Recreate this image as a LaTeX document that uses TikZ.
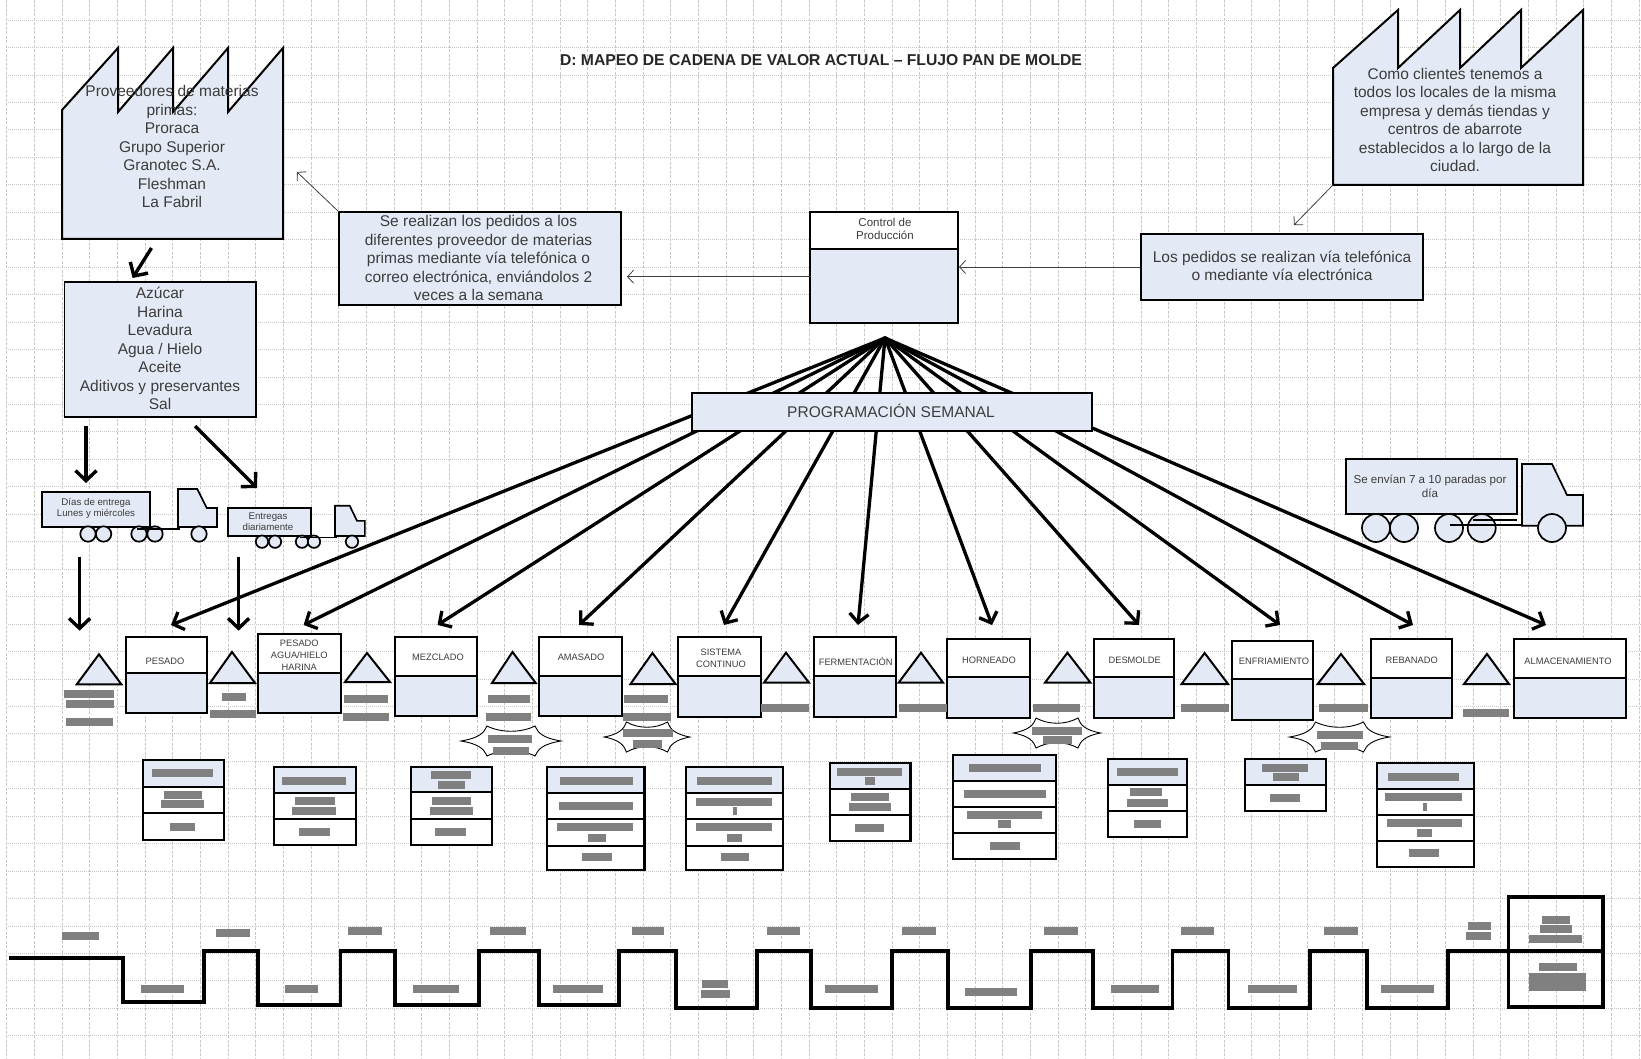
\documentclass[tikz,border=0pt]{standalone}
\usepackage{fontspec}
\setmainfont{Liberation Sans}
\usetikzlibrary{arrows.meta,fit}
\definecolor{boxblue}{HTML}{E4EAF5}
\definecolor{gridgray}{HTML}{C9C9C9}
\definecolor{inkgray}{HTML}{3C3C3C}
\definecolor{maskgray}{HTML}{808080}

\begin{document}
\begin{tikzpicture}[x=1pt,y=-1pt,line join=miter,
		flow box/.style={draw=black,fill=boxblue,line width=1.7pt,inner sep=0pt},
		big text/.style={text=inkgray,align=center,font=\fontsize{15.5}{18.5}\selectfont},
		small text/.style={text=inkgray,align=center,font=\fontsize{9.3}{12}\selectfont},
		proc top/.style={draw=black,fill=white,line width=2pt,inner sep=0pt},
		proc bot/.style={draw=black,fill=boxblue,line width=2pt,inner sep=0pt},
		stock/.style={draw=black,fill=boxblue,line width=2pt},
		cell/.style={draw=black,line width=2.2pt},
		wheel/.style={draw=black,fill=boxblue,line width=1.7pt},
		thin arrow/.style={->,>={Straight Barb[length=6pt,width=13pt]},draw=black!75,line width=.8pt},
		bold arrow/.style={->,>={Straight Barb[length=10pt,width=21pt]},line width=3.4pt},
		fan arrow/.style={->,>={Straight Barb[length=9pt,width=19pt]},line width=3.3pt,line cap=round},
		time line/.style={line width=3.8pt,line join=miter},
		mask/.style={fill=maskgray},
		tractor/.pic={
			\draw[flow box] (0,0) -- (30,0) -- (45,31) -- (61,31) -- (61,61.7) -- (0,61.7) -- cycle;
		},
		burst/.pic={
			\draw[fill=white,line width=.9pt] (-50,0) .. controls (-32,-3) and (-27,-8) .. (-24,-15)
				.. controls (-10,-8) and (10,-8) .. (24,-15) .. controls (27,-8) and (32,-3) .. (50,0)
				.. controls (32,3) and (27,8) .. (24,15) .. controls (10,8) and (-10,8) .. (-24,15)
				.. controls (-27,8) and (-32,3) .. (-50,0) -- cycle;
		}]
	\useasboundingbox (0,0) rectangle (1641,1059);

	% grid
	\foreach \k in {0,...,59}
		\draw[gridgray,line width=.5pt,dashed,dash pattern=on 3pt off 1.5pt] ({6.5+27.67*\k},0) -- ({6.5+27.67*\k},1059);
	\foreach \k in {0,...,38}
		\draw[gridgray,line width=.6pt,dash pattern=on 1pt off 1pt] (8,{20+27.45*\k}) -- (1641,{20+27.45*\k});

	\node[font=\bfseries\fontsize{15.7}{18}\selectfont,text=black!85] (title) at (821,60) {D: MAPEO DE CADENA DE VALOR ACTUAL – FLUJO PAN DE MOLDE};

	% factories
	\draw[flow box,line width=2pt] (62,239) -- (62,110) -- (118,48) -- (118,112) -- (173,48) -- (173,112) -- (228,48) -- (228,112) -- (283,48) -- (283,239) -- cycle;
	\node[big text] (suppliers) at (172,146.5) {Proveedores de materias\\primas:\\Proraca\\Grupo Superior\\Granotec S.A.\\Fleshman\\La Fabril};
	\coordinate (supplierin) at (297,172);
	\draw[flow box,line width=2pt] (1333,68) -- (1398,10) -- (1398,68) -- (1460,10) -- (1460,68) -- (1521,10) -- (1521,68) -- (1583,10) -- (1583,185) -- (1333,185) -- cycle;
	\node[big text] (clients) at (1455,120) {Como clientes tenemos a\\todos los locales de la misma\\empresa y demás tiendas y\\centros de abarrote\\establecidos a lo largo de la\\ciudad.};
	\coordinate (clientfoot) at (1333,185);
	\coordinate (clientout) at (1294,225);

	% information boxes
	\node[flow box,fit={(64.4,282) (256,417)}] (materials) {};
	\node[big text] (materialstext) at (160,348.5) {Azúcar\\Harina\\Levadura\\Agua / Hielo\\Aceite\\Aditivos y preservantes\\Sal};
	\node[flow box,fit={(339,212) (621,305)}] (orders) {};
	\node[big text] (orderstext) at (478.5,258) {Se realizan los pedidos a los\\diferentes proveedor de materias\\primas mediante vía telefónica o\\correo electrónica, enviándolos 2\\veces a la semana};
	\node[flow box,fit={(1141,234) (1423,300)}] (phone) {};
	\node[big text] (phonetext) at (1282,266) {Los pedidos se realizan vía telefónica\\o mediante vía electrónica};
	\node[proc top,fit={(810,212) (958,249)}] (controltop) {};
	\node[proc bot,fit={(810,249) (958,323)}] (control) {};
	\node[small text,font=\fontsize{11.5}{13.5}\selectfont] (controltext) at (885,229) {Control de\\Producción};

	\coordinate (ordercorner) at (339,212);
	\coordinate (controlout) at (810,276.7);
	\coordinate (ordersin) at (627,276.7);
	\draw[thin arrow] (ordercorner) -- (supplierin);
	\draw[thin arrow] (controlout) -- (ordersin);
	\draw[thin arrow] (phone.west) -- (control.east |- phone.west);
	\draw[thin arrow] (clientfoot) -- (clientout);

	% process boxes, fan of arrows behind the weekly box
	\coordinate (apex) at (885,338);
	\foreach \n/\xa/\xb/\ya/\yb/\yc/\tx/\ty/\fx/\txt in {
		a/126/207/637.3/672.7/713.3/165/661.7/171/{PESADO},
		b/258/341/634/673/713/299.3/655/303.6/{PESADO\\AGUA/HIELO\\HARINA},
		c/394.6/476.8/637/675.7/716/438/657.7/437.5/{MEZCLADO},
		d/539/622/637/675.7/716/581/657.7/579/{AMASADO},
		e/678/761/637/675.7/716.7/721/657.9/724/{SISTEMA\\CONTINUO},
		f/814.4/895.6/637/675.7/716.7/855.7/661.7/858/{FERMENTACIÓN},
		g/947/1029.5/639/677.3/718.3/989/660/992/{HORNEADO},
		h/1094.3/1174/639/677.3/718.3/1134.7/660/1139/{DESMOLDE},
		i/1231.7/1313.3/641/679.3/720/1274/661.7/1280/{ENFRIAMIENTO},
		j/1370.7/1451.7/639.3/677.7/718.3/1411.7/660/1413/{REBANADO},
		k/1514/1625.7/639.3/677.7/718.3/1568/661.7/1546/{ALMACENAMIENTO}}{
		\node[proc top,fit={(\xa,\ya) (\xb,\yb)}] (top\n) {};
		\node[proc bot,fit={(\xa,\yb) (\xb,\yc)}] (bot\n) {};
		\node[small text] (label\n) at (\tx,\ty) {\txt};
		\coordinate (in\n) at (\fx,625);
		\draw[fan arrow] (apex) -- (in\n);
	}
	\node[flow box,fit={(692,393) (1092,431)}] (weekly) {};
	\node[text=inkgray,font=\fontsize{15.5}{18}\selectfont] (weeklytext) at (891,411) {PROGRAMACIÓN SEMANAL};

	% trucks
	\node[flow box,fit={(42,492) (150,527)}] (trailerone) {};
	\pic[xscale=.64,yscale=.616] at (178,489) {tractor};
	\foreach \wx in {88,103.6,139,155,199}
		\draw[wheel] (\wx,534) circle [radius=7.7];
	\draw[line width=1.7pt] (137,529) -- (180,529);
	\node[flow box,fit={(228,508) (311,536)}] (trailertwo) {};
	\pic[xscale=.49,yscale=.49] at (335,505.7) {tractor};
	\foreach \wx in {262,275,302,314,352}
		\draw[wheel] (\wx,541.7) circle [radius=6.2];
	\draw[line width=1.5pt] (300,537.7) -- (336.8,537.7);
	\node[flow box,fit={(1345.7,459) (1516.7,514)}] (trailerthree) {};
	\pic at (1522,464) {tractor};
	\foreach \wx in {1376,1404,1449,1481.7,1552}
		\draw[wheel] (\wx,528) circle [radius=14];
	\draw[line width=1.5pt] (1450,525) -- (1522,525) (1473,520) -- (1517,520);
	\node[small text,font=\fontsize{9.7}{11.5}\selectfont] (truckone) at (96,508.5) {Días de entrega\\Lunes y miércoles};
	\node[small text,font=\fontsize{9.7}{11.5}\selectfont] (trucktwo) at (268,521.5) {Entregas\\diariamente};
	\node[small text,font=\fontsize{11.6}{14}\selectfont] (truckthree) at (1430,486) {Se envían 7 a 10 paradas por\\día};

	\coordinate (supplierout) at (151.5,248);
	\coordinate (materialsin) at (132.6,278);
	\coordinate (outa) at (86,426);
	\coordinate (truckain) at (86,483);
	\coordinate (outb) at (195,426);
	\coordinate (truckbin) at (257,488);
	\coordinate (truckaout) at (79.6,556.7);
	\coordinate (stocka) at (79.6,630.7);
	\coordinate (truckbout) at (238.6,556.7);
	\coordinate (stockb) at (238.6,630.7);
	\draw[bold arrow] (supplierout) -- (materialsin);
	\draw[bold arrow] (outa) -- (truckain);
	\draw[bold arrow] (outb) -- (truckbin);
	\draw[bold arrow] (truckaout) -- (stocka);
	\draw[bold arrow] (truckbout) -- (stockb);

	% stock triangles
	\foreach \xa/\xm/\xb/\ya/\yb in {76.8/99/121.4/654.3/684.3,210/232/255/652/683,345/367/390/653/682,
		492/512.5/535.7/652/683,630.5/652.4/675.5/653/684,764/786/809/652.7/682.7,898.6/921/943/652.7/682.7,
		1045/1067.4/1090.5/652.7/682.7,1181.6/1204.6/1228/653/684,1317.7/1341/1364/654/684,1464/1487/1509/654/684}
		\draw[stock] (\xm,\ya) -- (\xb,\yb) -- (\xa,\yb) -- cycle;

	% kaizen bursts
	\pic at (511,741) {burst};
	\pic[xscale=.855] at (647,737) {burst};
	\pic[xscale=.87] at (1057,733) {burst};
	\pic at (1339.5,737) {burst};

	% data boxes
	\foreach \xa/\xb/\ya/\yb/\yc/\rows in {
		143/224/760/786.7/840/{786.7,812.7},
		274/356/767.3/792.7/845/{792.7,819},
		410.7/492/767/791.7/845/{791.7,819},
		547/644.4/767.3/792.7/870/{792.7,819,845.7},
		685.6/783.3/767.3/792.7/870/{792.7,819,845.7},
		830/910.4/763.3/788.7/841/{788.7,815},
		953/1056/755/781.3/859/{781.3,807.3,832.7},
		1108/1187.3/759.3/785/836.7/{785,811},
		1245/1326/759.3/785/811/{785},
		1376.7/1474/762.7/789/866.7/{789,814.7,841}}{
		\fill[white] (\xa,\ya) rectangle (\xb,\yc);
		\fill[boxblue] (\xa,\ya) rectangle (\xb,\yb);
		\draw[cell] (\xa,\ya) rectangle (\xb,\yc);
		\foreach \r in \rows
			\draw[cell] (\xa,\r) -- (\xb,\r);
	}

	% time line
	\coordinate (linestart) at (9,958);
	\coordinate (lineend) at (1602.7,951);
	\draw[time line] (linestart) -- (123,958) -- (123,1001.7) -- (204,1001.7) -- (204,951) -- (257.8,951) -- (257.8,1005) -- (340.5,1005) -- (340.5,951) -- (394.9,951) -- (394.9,1005) -- (478.6,1005) -- (478.6,951) -- (538.7,951) -- (538.7,1005) -- (618.7,1005) -- (618.7,951) -- (675.7,951) -- (675.7,1007.7) -- (756.8,1007.7) -- (756.8,951) -- (810.7,951) -- (810.7,1008) -- (892.3,1008) -- (892.3,951) -- (948.3,951) -- (948.3,1008) -- (1031,1008) -- (1031,951) -- (1093.3,951) -- (1093.3,1008) -- (1172.4,1008) -- (1172.4,951) -- (1228.4,951) -- (1228.4,1008) -- (1310,1008) -- (1310,951) -- (1367,951) -- (1367,1008) -- (1448.3,1008) -- (1448.3,951) -- (lineend);
	\draw[time line] (1508.5,897.3) rectangle (1602.7,1007);

	% covered figures
	\foreach \xa/\xb/\ym in {
		64/114/694,66/113.5/704,66/113/722,222/246/697,209.6/256/714,343.6/388/699,343/389/717,
		487.5/530/699,486/531/717,624/668.4/699,623/670.5/717,761/808.5/707.7,899/947/707.7,
		1033/1080/707.7,1181/1229/707.7,1319/1368/707.7,1463/1509/712.7,
		488/532/739,493/528.6/750.7,623/672.6/733,632.6/662/744,1032.4/1081.7/731,1043/1072.4/740,1316.7/1363.3/735,1320.7/1358/745.7,
		152/213/773,164/202/795,161.4/203.6/804,169.6/194.6/826.7,
		282/346/780.7,294.6/334.6/801,292/336/810.7,299/330/832,
		431/471/775,437.5/465/785,432/471/801,430/473/811,435/466/832,
		560/632.6/781,559/632.6/806,557/633.4/827.3,588.4/606/837.7,582/611.5/857.3,
		697/771.5/781,695.7/772.3/801.7,732.8/737/811,695.7/772.3/827.3,726.5/742/837.7,721/749/857.3,
		836.7/902/772.3,865/874.6/781,851.4/888.5/796.7,848.5/890.6/807.3,854.8/883.9/827.7,
		969.3/1040.8/768.3,963.8/1046/794.3,967/1042/815,998/1011.4/824.3,989.5/1019.8/846,
		1117.4/1177.6/772.3,1130/1162/792.3,1127/1168/802.7,1134/1160.8/823.7,
		1261.7/1308.3/768.3,1272.7/1299/777.3,1270/1300/797.7,
		1387.7/1459.3/776.7,1385/1462.3/797.3,1422.7/1426.7/806.7,1386.7/1462.3/823.3,1416.7/1432.3/833.3,1409/1439/853.3,
		61.7/99.4/935.7,216/249.5/932.7,347.8/381.8/930.7,490/525.6/930.7,631.8/664/930.7,767/800/930.7,
		902/936/930.7,1043.6/1077.6/930.7,1181.3/1214/930.7,1323.7/1357.7/930.7,1467.7/1491/925.7,1465.6/1491/935.7,
		141.2/184/989.3,285/318/989.3,413/458.7/989.3,552.8/602.5/989.3,702.4/728/984.3,700.8/729.6/994,
		825.2/877.6/989.3,965/1017.4/991.7,1110.6/1158.7/989.3,1247.8/1296.5/989.3,1380.7/1433.6/989.3,
		1541.5/1570/919.7,1540/1572.4/929.3,1529.4/1581.8/939,1538.8/1576.6/967.3,1529.4/1586/977.3,1529.4/1586/983,1529.4/1586/987}
		\fill[mask] (\xa,{\ym-4}) rectangle (\xb,{\ym+4});

\end{tikzpicture}
\end{document}
